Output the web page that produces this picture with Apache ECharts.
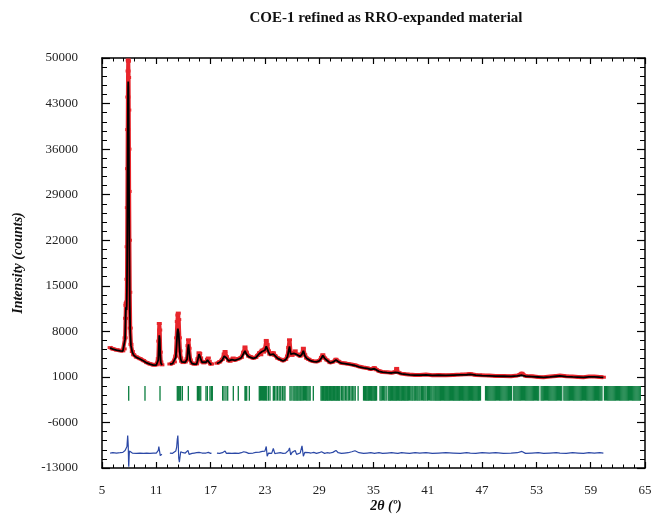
<!DOCTYPE html>
<html>
<head>
<meta charset="utf-8">
<script src="https://cdn.jsdelivr.net/npm/echarts@6/dist/echarts.min.js"></script>
<style>
  html, body { margin: 0; padding: 0; background: #fff; }
  #chart { width: 653px; height: 516px; }
</style>
</head>
<body>
<div id="chart"></div>
<script>
// Rietveld plot: observed (red), calculated (black), difference (blue), reflection markers (green)

// 2-theta grid; null rows mark the excluded regions
const twoTheta = [
  5.90, 6.20, 6.60, 7.00, 7.30, 7.45, 7.55, 7.60, 7.64, 7.67,
  7.70, 7.73, 7.76, 7.78, 7.80, 7.82, 7.84, 7.86, 7.88, 7.90,
  7.92, 7.94, 7.96, 7.98, 8.00, 8.03, 8.07, 8.12, 8.20, 8.35,
  8.50, 8.80, 9.20, 9.60, 9.94, 10.30, 10.67, 11.00, 11.15, 11.22,
  11.28, 11.33, 11.38, 11.44, 11.50, 11.62,
  12.00,
  12.50, 12.80, 13.00, 13.15, 13.25, 13.32, 13.38, 13.43, 13.48, 13.55,
  13.62, 13.70, 13.80, 13.95, 14.20, 14.40, 14.50, 14.56, 14.62, 14.75,
  14.95, 15.20, 15.45, 15.60, 15.72, 15.80, 15.90, 16.05, 16.25, 16.50,
  16.65, 16.75, 16.85, 17.00, 17.10,
  17.40,
  17.70, 18.00, 18.30, 18.50, 18.60, 18.75, 19.00, 19.15, 19.35, 19.50,
  19.70, 19.90, 20.10, 20.40, 20.65, 20.80, 20.95, 21.20, 21.40, 21.70,
  22.00, 22.20, 22.40, 22.55, 22.70, 22.85, 23.00, 23.15, 23.25, 23.40,
  23.55, 23.75, 23.93, 24.10, 24.40, 24.70, 25.00, 25.30, 25.50, 25.62,
  25.72, 25.85, 26.00, 26.20, 26.35, 26.50, 26.70, 26.90, 27.10, 27.25,
  27.40, 27.60, 27.85, 28.10, 28.40, 28.70, 29.00, 29.25, 29.40, 29.60,
  29.85, 30.20, 30.50, 30.85, 31.10, 31.45, 31.80, 32.20, 32.60, 32.95,
  33.40, 33.90, 34.30, 34.70, 35.10, 35.30, 35.60, 36.00, 36.50, 37.00,
  37.40, 37.56, 37.70, 38.10, 38.60, 39.00, 39.60, 40.10, 40.80, 41.50,
  42.20, 43.00, 43.80, 44.60, 45.30, 45.70, 46.30, 47.00, 47.80, 48.50,
  49.35, 50.20, 50.90, 51.40, 51.80, 52.50, 53.20, 53.80, 54.50, 55.20,
  55.60, 56.30, 57.00, 57.60, 58.20, 58.80, 59.40, 60.00, 60.40
];

const yObs = [
  5500, 5300, 5150, 5050, 5000, 5300, 7000, 10000, 12000, 12300,
  11500, 12500, 16000, 21000, 27000, 33000, 39000, 44000, 48000, 49700,
  49500, 47000, 42000, 36000, 29500, 22000, 14000, 8500, 6000, 4900,
  4400, 4050, 3800, 3500, 3200, 3000, 2850, 2850, 3000, 3800,
  6500, 9200, 8200, 4800, 3300, 2850,
  null,
  2980, 3100, 3300, 4200, 7000, 9500, 10500, 10800, 9800, 7000,
  5000, 3900, 3400, 3200, 3300, 3800, 5800, 6700, 5400, 3600,
  3100, 3000, 3000, 3800, 4700, 4600, 3900, 3300, 3150, 3300,
  3700, 3900, 3400, 3000, 2980,
  null,
  3100, 3300, 3700, 4500, 4900, 4100, 3500, 3400, 3700, 3900,
  3600, 3750, 3800, 4000, 4800, 5600, 4800, 4200, 4100, 3900,
  4000, 4300, 4700, 4400, 5100, 4800, 5300, 6600, 6000, 5000,
  4500, 4400, 4700, 4300, 3900, 3700, 3500, 3700, 4200, 5500,
  6700, 4600, 4300, 4700, 5000, 4500, 4400, 4200, 4600, 5400,
  4400, 3900, 3700, 3500, 3400, 3350, 3500, 4000, 4400, 3900,
  3600, 3200, 3300, 3700, 3400, 3150, 3100, 3000, 2900, 2800,
  2600, 2450, 2350, 2200, 2400, 2100, 1900, 1750, 1700, 1650,
  1750, 2300, 1700, 1500, 1400, 1350, 1300, 1300, 1350, 1250,
  1300, 1250, 1300, 1350, 1400, 1450, 1300, 1250, 1200, 1150,
  1150, 1100, 1200, 1550, 1150, 1100, 1000, 950, 1050, 1150,
  1200, 1100, 1050, 1000, 950, 1050, 1050, 1000, 950
];

const yCalc = [
  5450, 5250, 5100, 5000, 4950, 5250, 6800, 9800, 11700, 12000,
  11300, 12000, 15000, 19500, 25000, 31000, 37000, 42000, 45500, 46400,
  45500, 43000, 38000, 32000, 26000, 19000, 12000, 7800, 5800, 4800,
  4350, 4000, 3750, 3450, 3150, 2950, 2800, 2800, 2950, 3600,
  5600, 7400, 6800, 4300, 3200, 2800,
  null,
  2950, 3050, 3250, 4000, 6000, 7800, 8400, 8300, 7600, 5800,
  4500, 3700, 3300, 3150, 3250, 3700, 5400, 6000, 5000, 3500,
  3050, 2950, 2950, 3700, 4500, 4400, 3800, 3250, 3100, 3250,
  3600, 3800, 3300, 2950, 2950,
  null,
  3050, 3250, 3600, 4200, 4400, 3900, 3450, 3350, 3650, 3850,
  3550, 3700, 3750, 3950, 4600, 5000, 4500, 4100, 4050, 3850,
  3950, 4250, 4600, 4350, 4900, 4700, 5100, 5700, 5500, 4800,
  4400, 4300, 4500, 4250, 3850, 3650, 3450, 3650, 4100, 5000,
  5700, 4500, 4250, 4600, 4800, 4450, 4350, 4150, 4500, 5000,
  4300, 3850, 3650, 3450, 3350, 3300, 3450, 3900, 4300, 3850,
  3550, 3150, 3250, 3600, 3350, 3100, 3050, 2950, 2850, 2750,
  2550, 2400, 2300, 2150, 2250, 2050, 1850, 1720, 1650, 1600,
  1700, 1950, 1650, 1450, 1380, 1300, 1280, 1270, 1300, 1220,
  1250, 1220, 1260, 1300, 1330, 1380, 1260, 1200, 1170, 1120,
  1100, 1080, 1150, 1250, 1100, 1050, 980, 920, 1000, 1100,
  1150, 1050, 1000, 960, 920, 1000, 1000, 950, 930
];

// difference curve, already shifted to its baseline below the markers
const yDiff = [
  -10700, -10650, -10700, -10650, -10600, -10500, -10300, -10200, -10500, -10400,
  -10600, -10200, -9700, -9200, -8800, -8400, -8000, -8300, -9000, -9600,
  -11000, -12400, -12800, -12000, -11200, -10400, -10100, -10400, -10600, -10700,
  -10650, -10750, -10700, -10750, -10700, -10750, -10700, -10700, -10600, -10300,
  -9700, -9400, -10000, -11100, -11300, -10900,
  null,
  -10700, -10750, -10650, -10400, -9800, -8600, -8000, -9500, -11500, -12100,
  -11300, -10500, -10800, -10650, -10700, -10600, -10300, -10100, -10900, -10700,
  -10750, -10700, -10650, -10750, -10600, -10700, -10750, -10700, -10650, -10700,
  -10750, -10600, -10700, -10750, -10700,
  null,
  -10700, -10750, -10650, -10500, -10400, -10750, -10700, -10650, -10750, -10650,
  -10700, -10600, -10750, -10650, -10500, -10300, -10600, -10750, -10650, -10700,
  -10600, -10700, -10550, -10700, -10450, -10650, -10400, -9700, -11200, -10700,
  -10600, -10750, -10000, -10800, -10700, -10650, -10750, -10700, -10550, -10300,
  -9900, -11000, -10600, -10500, -10300, -10900, -10600, -10700, -9600, -11200,
  -10600, -10700, -10650, -10700, -10600, -10750, -10650, -10500, -10600, -10750,
  -10650, -10700, -10600, -10300, -10650, -10750, -10700, -10650, -10500, -10350,
  -10650, -10750, -10700, -10650, -10750, -10700, -10650, -10750, -10700, -10650,
  -10700, -10400, -10750, -10650, -10700, -10750, -10650, -10700, -10650, -10750,
  -10700, -10650, -10700, -10750, -10650, -10700, -10750, -10650, -10700, -10650,
  -10750, -10700, -10650, -10450, -10750, -10700, -10650, -10750, -10700, -10650,
  -10700, -10750, -10650, -10700, -10750, -10650, -10700, -10650, -10700
];

// Bragg reflection positions (2-theta)
const reflections = [
  7.95, 9.75, 11.41, 13.32, 13.43, 13.54, 13.69, 13.88, 14.54,
  15.54, 15.65, 15.75, 15.91, 16.49, 16.64, 16.93, 17.08, 17.19,
  18.33, 18.48, 18.70, 18.89, 19.51, 20.06, 20.80, 20.88, 20.99, 21.28,
  22.38, 22.50, 22.62, 22.75, 22.86, 22.97, 23.08, 23.20, 23.38, 23.56,
  23.93, 24.05, 24.23, 24.40, 24.58, 24.75, 24.93, 25.10, 25.22,
  25.77, 25.90, 26.10, 26.22, 26.33, 26.45, 26.56, 26.66, 26.78, 26.90,
  27.00, 27.12, 27.25, 27.36, 27.50, 27.62, 27.75, 27.88, 28.00, 28.35,
  29.20, 29.30, 29.38, 29.47, 29.55, 29.64, 29.72, 29.80, 29.90, 29.98,
  30.07, 30.15, 30.24, 30.33, 30.41, 30.50, 30.58, 30.68, 30.76, 30.85,
  30.94, 31.02, 31.11, 31.20, 31.28, 31.45, 31.60, 31.74, 31.90, 32.05,
  32.21, 32.36, 32.52, 32.66, 32.83, 32.98, 33.30,
  33.90, 34.00, 34.10, 34.19, 34.28, 34.38, 34.47, 34.57, 34.66, 34.76,
  34.85, 34.95, 35.05, 35.14, 35.24, 35.34,
  35.72, 35.85, 35.98, 36.12, 36.25, 36.40,
  36.62, 36.72, 36.81, 36.90, 37.00, 37.09, 37.18, 37.28, 37.37, 37.46,
  37.56, 37.65, 37.75, 37.84, 37.93, 38.03, 38.12, 38.22, 38.31, 38.40,
  38.50, 38.59, 38.69, 38.78, 38.88, 38.97,
  39.12, 39.25, 39.36, 39.50, 39.62, 39.78, 39.90, 40.03, 40.15, 40.30,
  40.42, 40.55, 40.68, 40.80, 40.95, 41.07, 41.20, 41.33, 41.45, 41.58, 41.70,
  41.82, 41.92, 42.02, 42.12, 42.22, 42.32, 42.42, 42.52, 42.62, 42.72,
  42.82, 42.92, 43.02, 43.12, 43.22, 43.32, 43.42, 43.52, 43.62, 43.72,
  43.82, 43.92, 44.02, 44.12, 44.22, 44.32, 44.42, 44.52, 44.62, 44.72,
  44.82, 44.92, 45.02, 45.12, 45.22, 45.32, 45.42, 45.52, 45.62, 45.72,
  45.82, 45.92, 46.02, 46.12, 46.22, 46.32, 46.42, 46.52, 46.62, 46.72, 46.82,
  47.38, 47.50, 47.62, 47.74, 47.86, 47.98, 48.10, 48.22, 48.34, 48.46,
  48.58, 48.70, 48.82, 48.94, 49.06, 49.18, 49.30, 49.42, 49.54, 49.66,
  49.78, 49.90, 50.02, 50.14, 50.26, 50.50, 50.62, 50.74, 50.86, 50.98,
  51.10, 51.22, 51.34, 51.46, 51.58, 51.70, 51.82, 51.94, 52.06, 52.18,
  52.30, 52.42, 52.54, 52.66, 52.78, 52.90, 53.02, 53.14, 53.26, 53.52,
  53.64, 53.76, 53.88, 54.00, 54.12, 54.24, 54.36, 54.48, 54.60, 54.72,
  54.84, 54.96, 55.08, 55.20, 55.32, 55.44, 55.56, 55.68, 55.80, 56.04,
  56.16, 56.28, 56.40, 56.52, 56.64, 56.76, 56.88, 57.00, 57.12, 57.24,
  57.36, 57.48, 57.60, 57.72, 57.84, 57.96, 58.08, 58.20, 58.32, 58.44,
  58.56, 58.68, 58.80, 58.92, 59.04, 59.16, 59.28, 59.40, 59.52, 59.64,
  59.76, 59.88, 60.00, 60.12, 60.24, 60.52, 60.64, 60.76, 60.88, 61.00,
  61.12, 61.24, 61.36, 61.48, 61.60, 61.72, 61.84, 61.96, 62.08, 62.20,
  62.32, 62.44, 62.56, 62.68, 62.80, 62.92, 63.04, 63.16, 63.28, 63.40,
  63.52, 63.64, 63.76, 63.88, 64.00, 64.12, 64.24, 64.36, 64.48
];

// axis ranges and tick labels
const xMin = 5, xMax = 65, xStep = 6;
const yMin = -13000, yMax = 50000, yStep = 7000;
// vertical extent of the reflection marker row (counts)
const markTop = -400, markBottom = -2650;

const pairs = vals => twoTheta.map((t, i) => [t, vals[i] == null ? '-' : vals[i]]);

const SERIF = '"Liberation Serif", "Times New Roman", serif';
const frame = { show: true, onZero: false, lineStyle: { color: '#000', width: 1.5 } };

function xAx(pos, labels) {
  return {
    type: 'value', position: pos, min: xMin, max: xMax, interval: xStep,
    axisLine: frame,
    axisTick: { show: true, inside: true, length: 6, lineStyle: { color: '#000', width: 1.2 } },
    minorTick: { show: true, splitNumber: 5, length: 3.5, lineStyle: { color: '#000', width: 1 } },
    splitLine: { show: false }, minorSplitLine: { show: false },
    axisLabel: {
      show: labels, margin: 16, fontFamily: SERIF, fontSize: 13, color: '#222',
      showMinLabel: true, showMaxLabel: true, hideOverlap: false,
      formatter: v => String(v)
    }
  };
}
function yAx(pos, labels) {
  return {
    type: 'value', position: pos, min: yMin, max: yMax, interval: yStep,
    axisLine: frame,
    axisTick: { show: true, inside: true, length: 8, lineStyle: { color: '#000', width: 1.2 } },
    minorTick: { show: true, splitNumber: 5, length: 5, lineStyle: { color: '#000', width: 1 } },
    splitLine: { show: false }, minorSplitLine: { show: false },
    axisLabel: {
      show: labels, margin: 24, fontFamily: SERIF, fontSize: 13, color: '#222',
      showMinLabel: true, showMaxLabel: true, hideOverlap: false,
      formatter: v => String(v)
    }
  };
}

const chart = echarts.init(document.getElementById('chart'), null, { renderer: 'canvas' });
chart.setOption({
  animation: false,
  backgroundColor: '#fff',
  grid: { left: 102, right: 8, top: 58, bottom: 48, containLabel: false, outerBoundsMode: 'none' },
  xAxis: [xAx('bottom', true), xAx('top', false)],
  yAxis: [yAx('left', true), yAx('right', false)],
  graphic: [
    { type: 'text', x: 386, y: 18,
      style: { text: 'COE-1 refined as RRO-expanded material', font: 'bold 15px ' + SERIF,
               fill: '#111', align: 'center', verticalAlign: 'middle' } },
    { type: 'text', x: 18, y: 263, rotation: Math.PI / 2,
      style: { text: 'Intensity (counts)', font: 'italic bold 14px ' + SERIF,
               fill: '#111', align: 'center', verticalAlign: 'middle' } },
    { type: 'text', x: 386, y: 506,
      style: { text: '2θ (º)', font: 'italic bold 14px ' + SERIF,
               fill: '#111', align: 'center', verticalAlign: 'middle' } }
  ],
  series: [
    {
      name: 'observed', type: 'line', data: pairs(yObs),
      xAxisIndex: 0, yAxisIndex: 0, z: 2,
      showSymbol: true, showAllSymbol: true, symbol: 'rect', symbolSize: [5, 3],
      itemStyle: { color: '#e8262c' },
      lineStyle: { color: '#e8262c', width: 4 }, connectNulls: false
    },
    {
      name: 'calculated', type: 'line', data: pairs(yCalc),
      xAxisIndex: 0, yAxisIndex: 0, z: 3, showSymbol: false,
      lineStyle: { color: '#000', width: 1.8 }, connectNulls: false
    },
    {
      name: 'difference', type: 'line', data: pairs(yDiff),
      xAxisIndex: 0, yAxisIndex: 0, z: 3, showSymbol: false,
      lineStyle: { color: '#2b48a6', width: 1.2 }, connectNulls: false
    },
    {
      name: 'reflections', type: 'custom', xAxisIndex: 0, yAxisIndex: 0, z: 2,
      data: reflections.map(t => [t, markTop]),
      encode: { x: 0, y: 1 },
      renderItem: (params, api) => {
        const t = api.value(0);
        const p1 = api.coord([t, markTop]);
        const p2 = api.coord([t, markBottom]);
        return { type: 'line', shape: { x1: p1[0], y1: p1[1], x2: p2[0], y2: p2[1] },
                 style: { stroke: '#0a7d3e', lineWidth: 1.3 } };
      }
    }
  ]
});
</script>
</body>
</html>
